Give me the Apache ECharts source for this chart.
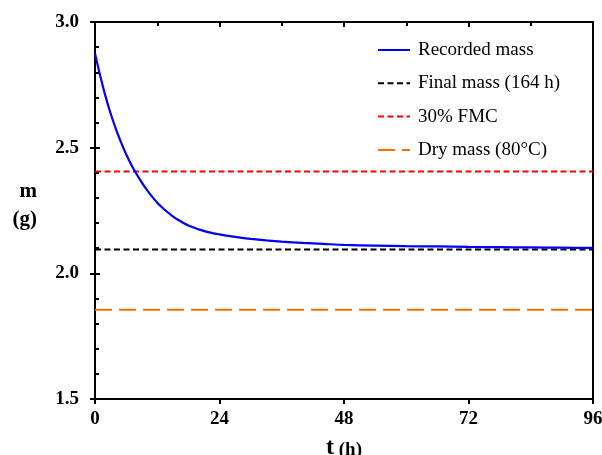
<!DOCTYPE html>
<html><head><meta charset="utf-8">
<script src="https://cdn.jsdelivr.net/npm/echarts@6/dist/echarts.min.js"></script>
<style>html,body{margin:0;padding:0;background:#fff}#c{width:602px;height:455px}</style>
</head><body><div id="c"></div>
<script>
// Recorded mass (t in hours, m in grams)
const timeHours = [0,1,2,3,4,5,6,7,8,9,10,11,12,13,14,15,16,18,20,22,24,26,28,30,33,36,40,44,48,54,60,66,72,78,84,90,96];
const recordedMass = [2.875,2.786,2.706,2.637,2.576,2.522,2.474,2.432,2.395,2.362,2.332,2.305,2.281,2.261,2.243,2.227,2.213,2.190,2.175,2.163,2.155,2.148,2.142,2.137,2.131,2.126,2.121,2.117,2.113,2.110,2.108,2.107,2.105,2.104,2.103,2.102,2.101];
const finalMass = 2.095;   // Final mass (164 h)
const fmc30Mass = 2.405;   // 30% FMC
const dryMass = 1.855;     // Dry mass (80°C)
const xRange = [0, 96];
const xTicks = [0, 24, 48, 72, 96];
const yTicks = [1.5, 2.0, 2.5, 3.0];
const seriesNames = ['Recorded mass', 'Final mass (164 h)', '30% FMC', 'Dry mass (80°C)'];

const FONT = 'Liberation Serif';
const chart = echarts.init(document.getElementById('c'), null, {renderer: 'canvas'});
const hline = v => xRange.map(x => [x, v]);
const yBase = {
  type: 'value', min: yTicks[0], max: yTicks[yTicks.length-1], interval: 0.5,
  splitLine: {show: false}
};
const xBase = {
  type: 'value', min: xTicks[0], max: xTicks[xTicks.length-1], interval: 24,
  splitLine: {show: false}
};
chart.setOption({
  animation: false,
  backgroundColor: '#fff',
  grid: {left: 95, right: 9, top: 22, bottom: 56, outerBoundsMode: 'none', containLabel: false,
         show: true, borderColor: '#000', borderWidth: 2, backgroundColor: 'transparent'},
  legend: {
    orient: 'vertical', left: 372, top: 35, itemWidth: 32, itemHeight: 14, itemGap: 13.3,
    data: seriesNames,
    itemStyle: {opacity: 0},
    textStyle: {fontFamily: FONT, fontSize: 19, color: '#000', lineHeight: 20, padding: [0, 0, 0, 3]}
  },
  xAxis: [
    Object.assign({}, xBase, {
      axisLine: {lineStyle: {color: '#000', width: 2}},
      axisTick: {show: true, inside: false, length: 5, lineStyle: {color: '#000', width: 2}},
      axisLabel: {fontFamily: FONT, fontSize: 19, fontWeight: 'bold', color: '#000', margin: 11},
      name: '{t|t}{sp| }{h|(h)}', nameLocation: 'middle', nameGap: 37,
      nameTextStyle: {rich: {
        t: {fontFamily: FONT, fontSize: 24, fontWeight: 'bold', color: '#000', verticalAlign: 'bottom'},
        sp: {fontFamily: FONT, fontSize: 19, verticalAlign: 'bottom'},
        h: {fontFamily: FONT, fontSize: 19, fontWeight: 'bold', color: '#000', verticalAlign: 'bottom'}
      }}
    }),
    Object.assign({}, xBase, {
      axisLine: {show: false},
      axisTick: {show: true, inside: true, length: 5, lineStyle: {color: '#000', width: 2}},
      minorTick: {show: true, splitNumber: 2, length: 4, lineStyle: {color: '#000', width: 2}},
      axisLabel: {show: false}
    })
  ],
  yAxis: [
    Object.assign({}, yBase, {
      axisLine: {show: true, lineStyle: {color: '#000', width: 2}},
      axisTick: {show: true, inside: false, length: 5, lineStyle: {color: '#000', width: 2}},
      axisLabel: {fontFamily: FONT, fontSize: 19, fontWeight: 'bold', color: '#000', margin: 16,
        formatter: v => v.toFixed(1)},
      name: '{a|m}\n{a|(g)}\n{s|}', nameLocation: 'middle', nameRotate: 0, nameGap: 58,
      nameTextStyle: {rich: {
        a: {fontFamily: FONT, fontSize: 21, fontWeight: 'bold', color: '#000', lineHeight: 28},
        s: {fontSize: 8, lineHeight: 10}
      }}
    }),
    Object.assign({}, yBase, {
      position: 'left', offset: 0,
      axisLine: {show: false},
      axisTick: {show: true, inside: true, length: 5, lineStyle: {color: '#000', width: 2}},
      minorTick: {show: true, splitNumber: 5, length: 4, lineStyle: {color: '#000', width: 2}},
      axisLabel: {show: false}
    })
  ],
  series: [
    {name: seriesNames[0], type: 'line', smooth: 0.3, showSymbol: false, symbol: 'none',
     data: timeHours.map((t, i) => [t, recordedMass[i]]),
     lineStyle: {color: '#0000FF', width: 2.2}, itemStyle: {color: '#0000FF'}, z: 5},
    {name: seriesNames[1], type: 'line', showSymbol: false, symbol: 'none', data: hline(finalMass),
     lineStyle: {color: '#000000', width: 2, type: [6, 3.5]}, itemStyle: {color: '#000'}},
    {name: seriesNames[2], type: 'line', showSymbol: false, symbol: 'none', data: hline(fmc30Mass),
     lineStyle: {color: '#FF0000', width: 2, type: [6, 3.5]}, itemStyle: {color: '#FF0000'}},
    {name: seriesNames[3], type: 'line', showSymbol: false, symbol: 'none', data: hline(dryMass),
     lineStyle: {color: '#FF6F00', width: 2, type: [17, 7]}, itemStyle: {color: '#FF6F00'}}
  ]
});
</script></body></html>
